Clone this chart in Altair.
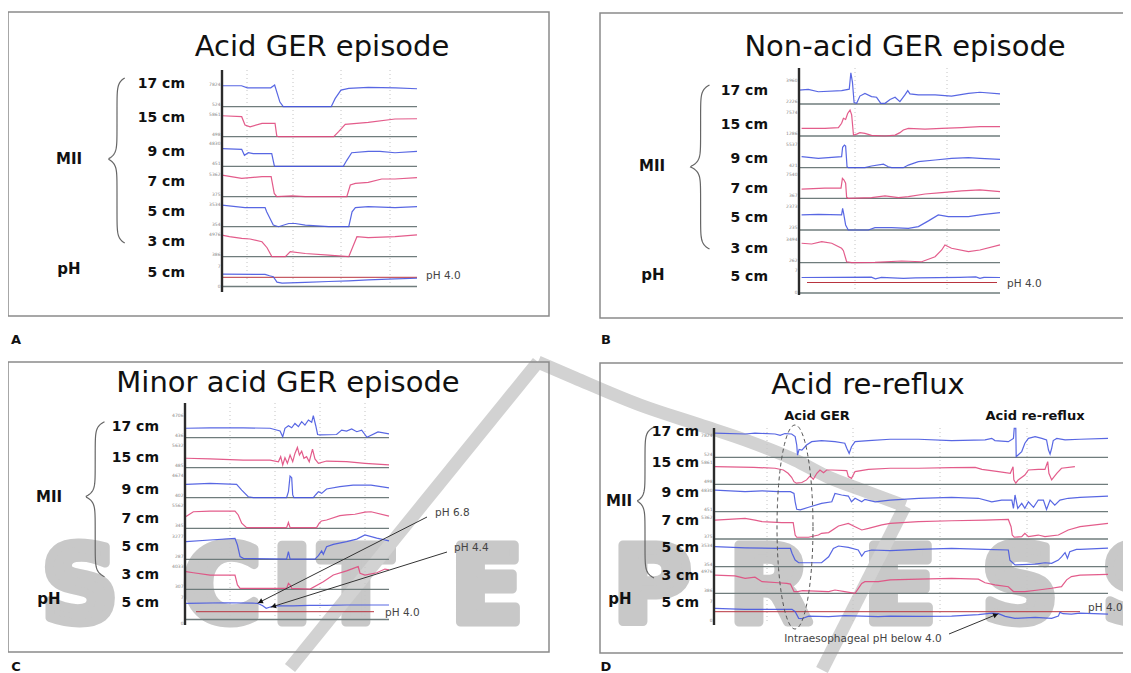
import math
import altair as alt
import pandas as pd

W, H = 1115, 665
OX, OY = 8, 8

# ------------------------------------------------------------------ data
PANELS = ["A", "B", "C", "D"]
TITLES = {"A": "Acid GER episode", "B": "Non-acid GER episode",
          "C": "Minor acid GER episode", "D": "Acid re-reflux"}
CHANNELS = ["17 cm", "15 cm", "9 cm", "7 cm", "5 cm", "3 cm"]
PH_LABEL = "5 cm"

# impedance traces: (time, % of window ; level, fraction of channel full scale)
A_17 = [(0, .91), (10, .91), (13, .82), (25, .82), (27, .94), (29.7, .2), (31.4, 0), (56, 0), (58, .35),
        (61, .72), (65, .8), (75, .84), (89, .82), (100, .78)]
A_15 = [(0, .91), (10.1, .87), (11.8, .51), (14.4, .43), (20.5, .58), (27.2, .58), (28.1, .03), (29, 0),
        (57.3, 0), (59.8, .22), (63.2, .54), (75, .62), (88.7, .77), (100, .78)]
A_9 = [(0, .77), (10.1, .74), (11.5, .48), (13.5, .59), (16, .55), (25.5, .55), (26.8, .04), (27.2, 0),
       (62.2, 0), (64, .26), (66.5, .59), (75, .65), (81, .65), (88.7, .59), (100, .65)]
A_7 = [(0, .94), (10.1, .8), (20.5, .87), (25.2, .87), (26.8, .14), (28.1, 0), (35.9, .04), (42.7, 0),
       (64, 0), (65.8, .51), (68.4, .58), (75, .62), (81.9, .77), (88.7, .77), (100, .83)]
A_5 = [(0, .94), (11.8, .83), (22.1, .83), (22.9, .65), (26.3, .07), (29, 0), (34.2, .14), (37.6, .14),
       (42.7, .07), (54.7, 0), (65, 0), (66.7, .65), (68.4, .83), (75, .87), (88.7, .83), (100, .87)]
A_3 = [(0, .94), (3.8, .87), (10.1, .8), (14.4, .77), (20.5, .65), (23.1, .39), (25.6, 0), (32.5, 0),
       (35, .22), (42.7, .14), (54.7, .07), (65, 0), (69.2, .87), (75, .83), (88.7, .87), (100, .95)]
A_PH = [(0, 4.88), (22.1, 4.8), (24.4, 4.43), (26.3, 4.16), (28.2, 2.67), (30.8, 2.4), (42.7, 2.57),
        (54.7, 2.83), (65, 3.02), (75, 3.28), (88.7, 3.55), (100, 3.73)]

B_17 = [(0, .58), (4.6, .61), (9.6, .51), (21.2, .56), (25, .62), (25.8, 1.3), (26.6, .9), (27.4, .06),
        (28.7, .03), (30.3, .33), (32.8, .44), (36.1, .31), (38.6, .28), (40.7, .03), (42.8, .03),
        (45.3, .19), (47.8, .28), (50.2, .1), (52.7, .38), (54.1, .56), (55.2, .42), (59.4, .38),
        (67.7, .38), (75.9, .33), (84.3, .44), (90, .49), (100, .42)]
B_15 = [(1.3, .32), (12.9, .32), (19.6, .35), (21.2, .53), (22.1, .74), (23.2, .69), (24.2, .94),
        (25.4, 1.08), (26.2, .88), (27.1, .04), (28.7, .08), (30.3, .14), (32.8, .11), (36.1, .03),
        (42.8, 0), (47.8, .04), (50.2, .14), (51.9, .25), (54.4, .32), (62.7, .29), (71, .32),
        (80.9, .35), (90, .39), (100, .39)]
B_9 = [(1.3, .46), (9.6, .39), (21.2, .46), (21.7, .85), (22.6, .94), (23.2, .9), (23.9, .04), (24.5, 0),
       (32.8, 0), (36.1, .07), (42, .15), (44.4, .04), (46.1, 0), (51.9, 0), (54.4, .11), (59.4, .25),
       (67.7, .32), (75.9, .39), (84.3, .42), (90, .39), (100, .35)]
B_7 = [(1.3, .38), (12.9, .42), (20.9, .42), (21.6, .83), (22.4, .76), (23.2, .63), (23.7, .04),
       (24.5, 0), (36.1, .03), (42.8, .1), (49.5, .03), (54.4, .07), (62.7, .18), (71, .24),
       (80.9, .31), (90, .35), (100, .28)]
B_5 = [(1.3, .63), (9.6, .65), (21.2, .63), (21.7, .9), (22.2, .69), (23.2, .21), (24.5, 0), (34.5, 0),
       (37.8, .1), (46.1, .1), (54.4, .07), (59.4, .14), (64.4, .38), (69.3, .63), (74.3, .56),
       (84.3, .56), (90, .63), (100, .72)]
B_3 = [(1.3, .81), (6.3, .78), (11.3, .875), (16.3, .81), (21.2, .6), (22.1, .5), (23.7, .04), (26.2, 0),
       (37.8, .01), (51.1, .07), (61, .04), (67.7, .25), (71, .53), (72.6, .74), (75.9, .6), (84.3, .46),
       (90, .53), (100, .74)]
B_PH = [(1.3, 5.3), (36, 5.4), (38, 4.95), (41, 5.35), (52, 5.1), (58, 5.2), (80, 5.35), (88, 5.45),
        (90, 5.1), (92, 5.35), (100, 5.3)]

C_17 = [(0.5, .41), (12.3, .43), (28.6, .43), (41.7, .41), (46.6, .29), (47.9, .04), (49, .41),
        (50.7, .52), (52.3, .43), (53.9, .62), (55.6, .48), (57.2, .7), (58.8, .55), (60.5, .77),
        (62.1, .67), (62.9, .96), (64.1, .52), (65, .14), (66.2, .12), (74.3, .14), (76.8, .33),
        (79.2, .29), (81.7, .38), (84.2, .26), (86.6, .33), (89.2, .02), (94.6, .25), (100, .17)]
C_15 = [(0.5, .41), (12.3, .38), (28.6, .33), (41.7, .33), (45.8, .26), (46.9, .48), (47.9, .12),
        (49, .43), (50.2, .19), (51.5, .55), (52.8, .26), (53.9, .62), (55.1, .88), (56.1, .55),
        (57.2, .72), (58.3, .41), (59.6, .48), (60.9, .26), (62.5, .81), (63.7, .38), (65.4, .19),
        (69.4, .29), (79.2, .26), (88.2, .19), (100, .12)]
C_9 = [(0.5, .58), (12.3, .62), (25.3, .58), (27.8, .33), (31, .04), (33.5, 0), (49.8, 0), (50.7, .26),
       (51.5, .94), (52.3, .87), (52.8, .12), (53.4, 0), (62.9, 0), (64.2, .14), (65.4, .26), (67, .19),
       (69.4, .38), (75.9, .48), (82.4, .55), (88.2, .55), (91.2, .55), (100, .43)]
C_7 = [(0.5, .51), (4.1, .72), (12.3, .75), (24.5, .75), (26.1, .58), (27.8, .22), (30.2, .03),
       (49.8, .03), (50.7, .26), (51.5, .03), (64.5, .03), (65.8, .22), (66.9, .32), (69.4, .36),
       (75.9, .55), (79.2, .58), (83.3, .61), (88.2, .7), (91.2, .72), (100, .53)]
C_5 = [(0.5, .77), (12.3, .84), (24.5, .91), (25.7, .62), (27, .12), (28.6, .04), (49.8, .01),
       (50.7, .33), (51.5, .01), (63.7, .01), (65.4, .16), (67, .36), (67.8, .22), (69.4, .55),
       (72.7, .65), (79.2, .77), (84.2, .88), (88.2, 1.06), (94, .92), (100, .8)]
C_3 = [(0.5, .77), (4.1, .72), (12.3, .62), (24.5, .62), (25.7, .19), (27, .04), (49.8, .04),
       (50.7, .26), (51.8, .16), (52.3, .04), (61.3, .01), (67.8, .33), (72.7, .62), (79.2, .8),
       (82.5, .91), (84.9, .99), (85.8, .7), (88.2, .62), (94, .72), (98, .88), (100, .85)]
C_PH = [(0.5, 5.88), (20.1, 6.0), (33.2, 5.9), (35.6, 5.88), (38.1, 5.34), (39.8, 4.76), (41.4, 5.0),
        (43.8, 5.3), (52.8, 5.3), (61, 5.4), (69.4, 5.4), (79.2, 5.5), (88.2, 5.5), (100, 5.5)]

D_17 = [(0.25, 1.1), (7.9, 1.06), (10.4, 1.1), (15.5, 1.06), (16.8, 1.0), (18, 1.08), (19.7, 1.06),
        (20.6, .94), (21, .56), (21.2, .1), (21.6, .36), (22.3, .33), (23.5, .56), (24.8, .71),
        (27.3, .76), (30.7, .71), (33.2, .64), (33.7, .41), (34.3, .18), (34.9, .48), (35.8, .71),
        (39.2, .76), (44.7, .82), (51.9, .82), (60.3, .76), (68.8, .79), (70.5, .86), (71.3, .76),
        (74.7, .71), (76, .86), (76.2, 1.32), (76.6, 1.32), (76.7, .03), (78.1, .26), (78.9, .64),
        (79.8, .86), (81.5, .94), (83.2, .86), (84.4, .79), (84.9, .33), (85.3, .15), (85.7, .41),
        (86.1, .76), (87, .86), (89.1, .79), (92.9, .82), (100, .86)]
D_15 = [(0.25, .8), (10.1, .77), (15.5, .73), (17.6, .65), (18.8, .5), (19.7, .32), (20.3, .12),
        (20.9, .05), (22.3, .08), (23.5, .2), (24.4, .38), (25.2, .23), (26.1, .5), (26.9, .65),
        (27.8, .53), (28.6, .65), (29.9, .65), (33.7, .62), (34.1, .35), (34.9, .27), (35.8, .58),
        (39.2, .68), (44.7, .73), (51.9, .73), (60.3, .76), (66.3, .77), (68, .68), (72.2, .58),
        (75.2, .5), (75.9, .8), (76.1, .2), (76.6, .05), (77.2, .2), (78.9, .42), (79.8, .65),
        (82.3, .68), (84, .68), (84.7, 1.03), (85, .5), (85.7, .2), (87, .5), (88.2, .73), (91.6, .8)]
D_9 = [(0.25, .98), (7.9, .91), (12.2, .95), (16.4, .91), (19.4, .91), (20.3, .83), (20.6, .45),
       (21, .11), (21.9, .08), (24, .2), (27.3, .38), (29.9, .45), (30.7, .83), (32.4, .76), (34.1, .71),
       (34.9, .45), (35.8, .61), (37.5, .45), (38.3, .56), (40.9, .45), (44.7, .53), (51.9, .61),
       (60.3, .65), (67.1, .61), (70.5, .45), (73, .53), (75.6, .53), (76, .15), (76.4, .76),
       (77.1, .15), (78.1, .38), (78.9, .15), (79.8, .45), (81.1, .2), (82.3, .53), (83.6, .53),
       (84.4, .1), (85.3, .53), (86.5, .3), (87.8, .53), (89.9, .61), (92.9, .65), (100, .71)]
D_7 = [(0.25, .86), (3.6, .89), (7.9, .94), (10.4, .86), (12.2, .79), (17.2, .74), (20.1, .74),
       (20.6, .18), (21, .08), (24, .08), (26.5, .18), (27.3, .26), (29.1, .29), (31.6, .59), (34.1, .71),
       (35.8, .56), (37.5, .41), (39.2, .48), (42.6, .64), (44.7, .71), (51.9, .79), (60.3, .83),
       (68.8, .86), (74.7, .89), (75.4, .56), (75.7, .18), (76.2, .08), (78.1, .11), (78.9, .26),
       (79.8, .11), (82.3, .18), (84, .11), (87.4, .18), (89.9, .41), (92.9, .56), (100, .71)]
D_5 = [(0.25, .91), (7.9, .86), (16.4, .83), (19.4, .83), (19.8, .61), (20.6, .3), (21.5, .18),
       (27.3, .18), (29.1, .45), (30.3, .83), (31.6, .94), (34.1, .88), (36.6, .76), (37.5, .48),
       (38.3, .68), (40, .76), (44.7, .73), (51.9, .79), (60.3, .83), (68.8, .79), (74.7, .76),
       (75.1, .3), (76.4, .08), (81.5, .12), (84, .18), (85.7, .15), (87.4, .3), (88.2, .45),
       (89.1, .64), (89.7, .38), (90.3, .68), (92, .79), (92.9, .79), (100, .84)]
D_3 = [(0.25, .83), (5.3, .79), (7.9, .68), (10.4, .73), (12.2, .53), (16.4, .48), (18.5, .45),
       (19.4, .42), (20.3, .08), (21.2, .08), (22.5, .12), (29.1, .08), (30.7, .15), (33.2, .08),
       (35.8, 0), (37.5, .45), (38.3, .53), (41.7, .53), (44.7, .61), (51.9, .64), (60.3, .68),
       (67.1, .64), (68.8, .48), (71.3, .38), (74.7, .3), (76, .08), (78.9, .08), (82.3, .15),
       (85.7, .23), (88.2, .3), (89.5, .61), (90.7, .76), (92.9, .83), (100, .86)]
D_PH = [(0.25, 5.0), (7.9, 4.7), (16.4, 4.7), (19.8, 4.7), (20.6, 4.0), (21.5, 2.0), (22.3, 1.9),
        (24, 2.67), (29.1, 2.5), (33.2, 2.8), (37.5, 2.67), (41.7, 2.5), (44.7, 2.67), (51.9, 2.6),
        (60.3, 2.67), (67.1, 3.13), (70.5, 3.6), (72.2, 3.4), (73.9, 2.6), (76.4, 2.0), (81.5, 2.3),
        (85.7, 2.0), (87.4, 2.67), (87.8, 3.8), (88.6, 3.4), (90.7, 3.3), (92.9, 3.6), (100, 3.3)]

TRACES = {"A": [A_17, A_15, A_9, A_7, A_5, A_3], "B": [B_17, B_15, B_9, B_7, B_5, B_3],
          "C": [C_17, C_15, C_9, C_7, C_5, C_3], "D": [D_17, D_15, D_9, D_7, D_5, D_3]}
PH_TRACES = {"A": A_PH, "B": B_PH, "C": C_PH, "D": D_PH}

# channel full-scale tick labels (ohm)
TICK_TOP = {"A": ["7824", "5861", "4830", "5362", "3534", "4976"],
            "B": ["3960", "7574", "5537", "7540", "2373", "3494"],
            "C": ["4706", "5632", "4674", "5562", "3277", "4033"],
            "D": ["7824", "5861", "4830", "5362", "3534", "4976"]}
TICK_BOT = {"A": ["524", "498", "451", "375", "354", "386"],
            "B": ["2226", "1286", "421", "367", "235", "262"],
            "C": ["436", "485", "402", "345", "287", "307"],
            "D": ["524", "498", "451", "375", "354", "386"]}
PH_TICKS = ["7", "0"]
PH_THRESHOLD = 4.0

# annotations: (label, time %, pH at arrow tip)
C_ARROWS = [("pH 6.8", 35.6, 5.9), ("pH 4.4", 42.0, 5.0)]
D_ARROWS = [("Intraesophageal pH below 4.0", 72.2, 3.4)]
D_EPISODES = ["Acid GER", "Acid re-reflux"]
WATERMARK = "SCITEPRESS"

# ------------------------------------------------------------------ layout (pixels)
GEOM = {
    "A": dict(box=(8, 12, 549, 316), title=(322, 47), x0=222, x1=417,
              base=[106.7, 136.7, 166.3, 196.7, 226.7, 256.7], h=23,
              ph7=266.5, ph4=277.3, phbot=286.5, ax=(70, 292),
              lab_x=185, lab_y=[84, 118, 152, 182, 212, 242, 273], mii=(69, 159), ph=(69, 269),
              brace=(117, 124.7, 108, 78, 159, 243), ph40=(426, 276), grid=[247, 293, 341, 390],
              ph4_span=(222, 417), letter=(16, 340)),
    "B": dict(box=(600, 13, 1145, 318), title=(905, 47), x0=799, x1=1000,
              base=[104, 136, 167.7, 198.3, 230, 262.7], h=24,
              ph7=271, ph4=282.5, phbot=293, ax=(68, 295),
              lab_x=768, lab_y=[91, 125, 159, 189, 218, 249, 277], mii=(652, 166), ph=(653, 275),
              brace=(700.6, 709.5, 689.9, 85, 166.7, 249), ph40=(1007, 284), grid=[855, 947],
              ph4_span=(807, 997), letter=(606, 340)),
    "C": dict(box=(8, 362, 549, 652), title=(288, 383), x0=185, x1=389,
              base=[437.7, 467.7, 497.7, 528.3, 559.3, 589.3], h=23,
              ph7=598.3, ph4=611.7, phbot=619.5, ax=(403, 625),
              lab_x=159, lab_y=[427, 458, 490, 519, 547, 575, 603], mii=(49, 497), ph=(49, 599),
              brace=(95.2, 104.5, 85.4, 421.7, 496.7, 576.7), ph40=(385, 613), grid=[230, 275, 320, 365],
              ph4_span=(196, 374), letter=(16, 667)),
    "D": dict(box=(600, 363, 1145, 653), title=(868, 385), x0=714, x1=1108,
              base=[457.3, 484.3, 511.7, 539, 566.7, 593.3], h=22,
              ph7=601.7, ph4=611.7, phbot=None, ax=(428, 625),
              lab_x=699, lab_y=[432, 463, 493, 521, 548, 576, 603], mii=(619, 501), ph=(620, 599),
              brace=(645, 654, 637, 427, 501, 578), ph40=(1088, 608), grid=[767, 853, 940, 1027],
              ph4_span=(714, 1080), letter=(606, 667)),
}
C_ARROW_TAILS = [(427, 517, 435, 513), (447, 552, 454, 548)]   # tail x, y, label x, y
D_ARROW_TAILS = [(949, 634, 863, 639)]
D_EPISODE_POS = [(817, 416), (1035, 416)]
D_ELLIPSE = (795, 527, 18, 102)
WM_X = [80, 222, 292, 356, 487, 652, 770, 900, 1020, 1140]
WM_BASE = 622
WM_STROKES = [
    [(290, 668), (538, 362)],
    [(538, 362), (575, 378), (640, 405), (700, 425), (745, 440), (795, 460), (828, 477), (862, 490), (905, 506)],
    [(905, 506), (822, 670)],
]

BLUE, RED = "#4657e0", "#e04a7e"
CH_COLORS = [BLUE, RED, BLUE, RED, BLUE, RED]
FONT = "DejaVu Sans"
WM_GRAY = "#c8c8c8"

XS = alt.Scale(domain=[OX, OX + W], range=[0, W], nice=False, zero=False)
YS = alt.Scale(domain=[OY, OY + H], range=[0, H], nice=False, zero=False)


def X(f):
    return alt.X(f, type="quantitative", scale=XS, axis=None)


def Y(f):
    return alt.Y(f, type="quantitative", scale=YS, axis=None)


def tx(g, t):
    return g["x0"] + t / 100.0 * (g["x1"] - g["x0"])


def ph_y(g, ph):
    return g["ph4"] - (ph - PH_THRESHOLD) / 3.0 * (g["ph4"] - g["ph7"])


# ------------------------------------------------------------------ tables
trace_rows, base_rows, ph4_rows, axis_rows, grid_rows, box_rows = [], [], [], [], [], []
brace_rows, tick_rows = [], []
title_rows, lab_rows, bold_c_rows, small_rows = [], [], [], []
for p in PANELS:
    g = GEOM[p]
    for i, series in enumerate(TRACES[p]):
        for k, (t, v) in enumerate(series):
            trace_rows.append(dict(key=f"{p}{i}", order=k, x=tx(g, t), y=g["base"][i] - v * g["h"],
                                   color=CH_COLORS[i]))
        base_rows.append(dict(x=g["x0"], x2=g["x1"], y=g["base"][i]))
        tick_rows.append(dict(x=g["x0"] - 1.5, y=g["base"][i] - g["h"] + 1, text=TICK_TOP[p][i]))
        tick_rows.append(dict(x=g["x0"] - 1.5, y=g["base"][i] - 2, text=TICK_BOT[p][i]))
        lab_rows.append(dict(x=g["lab_x"], y=g["lab_y"][i], text=CHANNELS[i]))
    for k, (t, ph) in enumerate(PH_TRACES[p]):
        trace_rows.append(dict(key=f"{p}ph", order=k, x=tx(g, t), y=ph_y(g, ph), color=BLUE))
    if g["phbot"] is not None:
        base_rows.append(dict(x=g["x0"], x2=g["x1"], y=g["phbot"]))
    tick_rows.append(dict(x=g["x0"] - 1.5, y=g["ph7"], text=PH_TICKS[0]))
    tick_rows.append(dict(x=g["x0"] - 1.5, y=ph_y(g, 1.3), text=PH_TICKS[1]))
    lab_rows.append(dict(x=g["lab_x"], y=g["lab_y"][6], text=PH_LABEL))
    ph4_rows.append(dict(x=g["ph4_span"][0], x2=g["ph4_span"][1], y=g["ph4"]))
    axis_rows.append(dict(x=g["x0"], y=g["ax"][0], y2=g["ax"][1]))
    for gx in g["grid"]:
        grid_rows.append(dict(x=gx, y=g["ax"][0], y2=g["ax"][1] - 4))
    b = g["box"]
    box_rows.append(dict(x=b[0], y=b[1], x2=b[2], y2=b[3]))
    spine, tip, mid, top, cy, bot = g["brace"]
    n = 160
    for k in range(n + 1):
        yy = top + (bot - top) * k / n
        xx = (spine + (tip - spine) * math.exp(-(yy - top) / 4.5)
              + (tip - spine) * math.exp(-(bot - yy) / 4.5)
              - (spine - mid) * math.exp(-abs(yy - cy) / 4.5))
        brace_rows.append(dict(key=p, order=k, x=xx, y=yy))
    title_rows.append(dict(x=g["title"][0], y=g["title"][1], text=TITLES[p]))
    bold_c_rows.append(dict(x=g["mii"][0], y=g["mii"][1], text="MII", size=15))
    bold_c_rows.append(dict(x=g["ph"][0], y=g["ph"][1], text="pH", size=15))
    bold_c_rows.append(dict(x=g["letter"][0], y=g["letter"][1], text=p, size=13))
    small_rows.append(dict(x=g["ph40"][0], y=g["ph40"][1], text="pH 4.0"))

for (name, (ex, ey)) in zip(D_EPISODES, D_EPISODE_POS):
    bold_c_rows.append(dict(x=ex, y=ey, text=name, size=13))

arrow_rows, head_rows, center_small = [], [], []
for (lab, t, ph), (tlx, tly, lx, ly) in zip(C_ARROWS, C_ARROW_TAILS):
    g = GEOM["C"]
    arrow_rows.append(dict(x=tlx, y=tly, x2=tx(g, t), y2=ph_y(g, ph)))
    small_rows.append(dict(x=lx, y=ly, text=lab))
for (lab, t, ph), (tlx, tly, lx, ly) in zip(D_ARROWS, D_ARROW_TAILS):
    g = GEOM["D"]
    arrow_rows.append(dict(x=tlx, y=tly, x2=tx(g, t), y2=ph_y(g, ph)))
    center_small.append(dict(x=lx, y=ly, text=lab))
for a in arrow_rows:
    dx, dy = a["x2"] - a["x"], a["y2"] - a["y"]
    L = math.hypot(dx, dy)
    ang = math.degrees(math.atan2(dx, -dy)) % 360
    head_rows.append(dict(x=a["x2"] - 3 * dx / L, y=a["y2"] - 3 * dy / L, angle=ang))

ell_rows = []
cx, cy, rx, ry = D_ELLIPSE
for k in range(121):
    th = 2 * math.pi * k / 120
    ell_rows.append(dict(order=k, x=cx + rx * math.cos(th), y=cy + ry * math.sin(th)))

wm_rows = [dict(x=xx, y=WM_BASE, text=ch) for xx, ch in zip(WM_X, WATERMARK)]
wm_stroke_rows = []
for s, pts in enumerate(WM_STROKES):
    for k, (xx, yy) in enumerate(pts):
        wm_stroke_rows.append(dict(key=s, order=k, x=xx, y=yy))

# ------------------------------------------------------------------ layers
df = pd.DataFrame
layers = [
    alt.Chart(df(wm_rows)).mark_text(font=FONT, fontWeight="bold", fontSize=106, color=WM_GRAY,
                                     stroke=WM_GRAY, strokeWidth=9, strokeJoin="round",
                                     align="center", baseline="alphabetic").encode(
        x=X("x"), y=Y("y"), text="text:N"),
    alt.Chart(df(wm_stroke_rows)).mark_line(strokeWidth=13, color="#d2d2d2", strokeJoin="round",
                                            interpolate="monotone").encode(
        x=X("x"), y=Y("y"), detail="key:N", order="order:Q"),
    alt.Chart(df(box_rows)).mark_rect(fillOpacity=0, stroke="#8a8a8a", strokeWidth=1.5).encode(
        x=X("x"), y=Y("y"), x2="x2", y2="y2"),
    alt.Chart(df(grid_rows)).mark_rule(color="#c4c4c4", strokeWidth=1, strokeDash=[1, 3]).encode(
        x=X("x"), y=Y("y"), y2="y2"),
    alt.Chart(df(base_rows)).mark_rule(color="#6f7c7c", strokeWidth=1.3).encode(
        x=X("x"), x2="x2", y=Y("y")),
    alt.Chart(df(ph4_rows)).mark_rule(color="#b8343f", strokeWidth=1).encode(
        x=X("x"), x2="x2", y=Y("y")),
    alt.Chart(df(trace_rows)).mark_line(strokeWidth=1.2, opacity=0.9).encode(
        x=X("x"), y=Y("y"), detail="key:N", order="order:Q", color=alt.Color("color:N", scale=None)),
    alt.Chart(df(axis_rows)).mark_rule(color="#2b2b2b", strokeWidth=2.4).encode(
        x=X("x"), y=Y("y"), y2="y2"),
    alt.Chart(df(brace_rows)).mark_line(color="#666666", strokeWidth=1.2).encode(
        x=X("x"), y=Y("y"), detail="key:N", order="order:Q"),
    alt.Chart(df(ell_rows)).mark_line(color="#555555", strokeWidth=1, strokeDash=[4, 3]).encode(
        x=X("x"), y=Y("y"), order="order:Q"),
    alt.Chart(df(arrow_rows)).mark_rule(color="#333333", strokeWidth=1).encode(
        x=X("x"), y=Y("y"), x2="x2", y2="y2"),
    alt.Chart(df(head_rows)).mark_point(shape="triangle-up", filled=True, size=30, color="#111111",
                                        opacity=1).encode(
        x=X("x"), y=Y("y"), angle=alt.Angle("angle:Q", scale=None)),
    alt.Chart(df(tick_rows)).mark_text(font=FONT, fontSize=4.5, color="#888888", align="right",
                                       baseline="middle").encode(
        x=X("x"), y=Y("y"), text="text:N"),
    alt.Chart(df(title_rows)).mark_text(font=FONT, fontSize=29, color="#111111", align="center",
                                        baseline="middle").encode(
        x=X("x"), y=Y("y"), text="text:N"),
    alt.Chart(df(lab_rows)).mark_text(font=FONT, fontSize=14, fontWeight="bold", color="#111111",
                                      align="right", baseline="middle").encode(
        x=X("x"), y=Y("y"), text="text:N"),
    alt.Chart(df(bold_c_rows)).mark_text(font=FONT, fontWeight="bold", color="#111111", align="center",
                                         baseline="middle").encode(
        x=X("x"), y=Y("y"), text="text:N", size=alt.Size("size:Q", scale=None)),
    alt.Chart(df(small_rows)).mark_text(font=FONT, fontSize=10.5, color="#444444", align="left",
                                        baseline="middle").encode(
        x=X("x"), y=Y("y"), text="text:N"),
    alt.Chart(df(center_small)).mark_text(font=FONT, fontSize=10.5, color="#444444", align="center",
                                          baseline="middle").encode(
        x=X("x"), y=Y("y"), text="text:N"),
]

chart = alt.layer(*layers).properties(
    width=W, height=H, autosize="none", padding=0, background="white"
).configure_view(stroke=None)

chart.save("out.html", embed_options={"renderer": "svg", "actions": False})
